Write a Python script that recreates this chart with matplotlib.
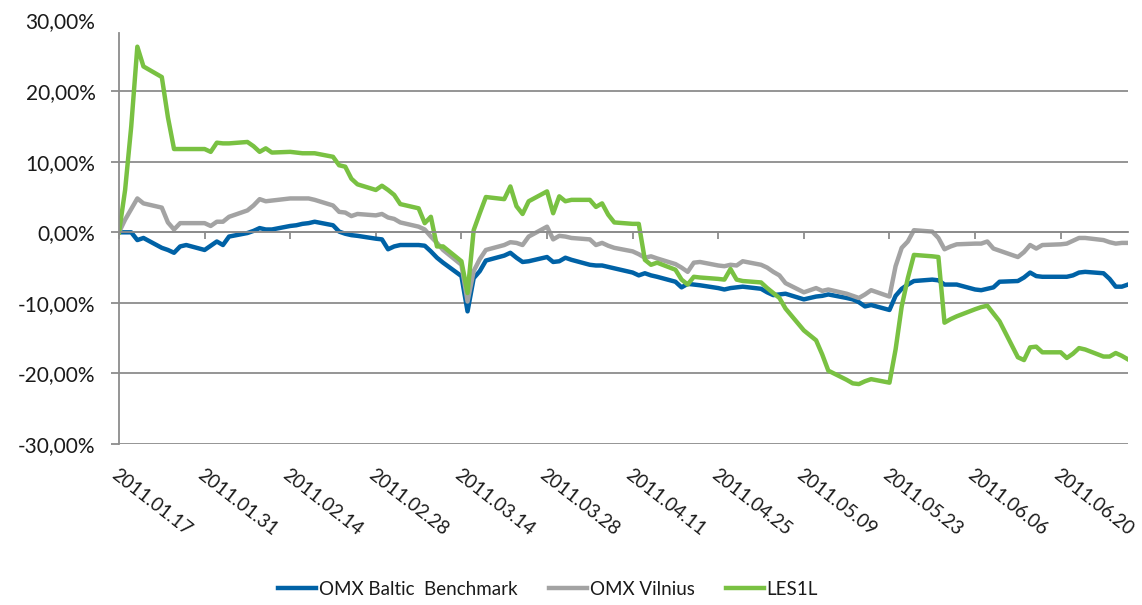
import matplotlib.pyplot as plt
import matplotlib.dates as mdates
import pandas as pd

plt.rcParams['font.family'] = ['Lato', 'DejaVu Sans']

# trading days, 2011-01-17 .. 2011-07-01
dates = pd.bdate_range('2011-01-17', '2011-07-01')

omx_baltic = [
    0.0, 0.0, 0.0, -1.1, -0.8,
    -2.2, -2.5, -2.9, -2.0, -1.8,
    -2.5, -1.9, -1.3, -1.8, -0.6,
    -0.1, 0.2, 0.6, 0.4, 0.4,
    0.9, 1.0, 1.2, 1.3, 1.5,
    1.0, 0.1, -0.2, -0.4, -0.5,
    -0.9, -1.0, -2.4, -2.0, -1.8,
    -1.8, -1.9, -2.7, -3.6, -4.3,
    -6.2, -11.2, -6.5, -5.5, -4.0,
    -3.3, -2.9, -3.6, -4.2, -4.1,
    -3.5, -4.2, -4.1, -3.6, -3.9,
    -4.6, -4.7, -4.7, -4.9, -5.1,
    -5.7, -6.1, -5.8, -6.1, -6.3,
    -7.0, -7.8, -7.3, -7.4, -7.5,
    -7.9, -8.1, -7.9, -7.8, -7.7,
    -8.0, -8.5, -8.9, -8.8, -8.7,
    -9.5, -9.3, -9.1, -9.0, -8.8,
    -9.3, -9.5, -9.9, -10.5, -10.3,
    -11.0, -9.0, -8.0, -7.4, -6.9,
    -6.7, -6.8, -7.4, -7.4, -7.4,
    -8.1, -8.2, -8.0, -7.8, -7.0,
    -6.9, -6.4, -5.7, -6.2, -6.3,
    -6.3, -6.3, -6.1, -5.7, -5.6,
    -5.8, -6.6, -7.7, -7.7, -7.4,
]

omx_vilnius = [
    0.0, 1.8, 3.3, 4.8, 4.1,
    3.5, 1.4, 0.4, 1.3, 1.3,
    1.3, 0.9, 1.5, 1.5, 2.2,
    3.1, 3.8, 4.7, 4.4, 4.5,
    4.8, 4.8, 4.8, 4.8, 4.6,
    3.8, 2.9, 2.8, 2.3, 2.6,
    2.4, 2.6, 2.1, 1.9, 1.4,
    0.8, 0.4, -0.6, -1.5, -2.5,
    -4.6, -9.8, -5.5, -3.8, -2.5,
    -1.8, -1.4, -1.5, -1.8, -0.6,
    0.8, -1.0, -0.5, -0.6, -0.8,
    -1.0, -1.8, -1.5, -1.9, -2.2,
    -2.7, -3.1, -3.6, -3.4, -3.7,
    -4.5, -5.0, -5.6, -4.3, -4.2,
    -4.7, -4.8, -4.6, -4.7, -4.1,
    -4.6, -5.0, -5.6, -6.1, -7.2,
    -8.5, -8.2, -7.9, -8.3, -8.1,
    -8.7, -9.0, -9.3, -8.8, -8.2,
    -9.1, -4.8, -2.2, -1.3, 0.3,
    0.1, -0.8, -2.4, -2.0, -1.7,
    -1.6, -1.6, -1.3, -2.3, -2.6,
    -3.5, -2.8, -1.8, -2.3, -1.8,
    -1.7, -1.6, -1.2, -0.8, -0.8,
    -1.1, -1.4, -1.6, -1.5, -1.5,
]

les1l = [
    0.0, 6.0, 15.0, 26.3, 23.5,
    22.0, 16.3, 11.8, 11.8, 11.8,
    11.8, 11.4, 12.7, 12.6, 12.6,
    12.8, 12.2, 11.4, 11.9, 11.3,
    11.4, 11.3, 11.2, 11.2, 11.2,
    10.7, 9.5, 9.3, 7.6, 6.8,
    6.0, 6.6, 6.0, 5.3, 4.0,
    3.4, 1.3, 2.2, -2.0, -2.0,
    -4.1, -8.6, 0.3, 2.7, 5.0,
    4.7, 6.5, 3.7, 2.6, 4.4,
    5.8, 2.7, 5.1, 4.4, 4.6,
    4.6, 3.6, 4.1, 2.5, 1.4,
    1.2, 1.2, -3.9, -4.6, -4.3,
    -5.3, -6.7, -7.4, -6.3, -6.4,
    -6.6, -6.7, -5.2, -6.7, -6.9,
    -7.1, -7.9, -8.6, -9.3, -10.8,
    -13.9, -14.6, -15.3, -17.3, -19.6,
    -20.9, -21.4, -21.5, -21.1, -20.8,
    -21.3, -16.6, -10.5, -6.5, -3.2,
    -3.4, -3.5, -12.8, -12.3, -11.9,
    -10.9, -10.6, -10.4, -11.5, -12.6,
    -17.7, -18.1, -16.3, -16.2, -17.0,
    -17.0, -17.8, -17.2, -16.4, -16.6,
    -17.6, -17.6, -17.1, -17.5, -18.0,
]

tick_dates = pd.date_range('2011-01-17', '2011-06-20', freq='14D')

grid_col = '#8c8c8c'
text_col = '#1a1a1a'

fig, ax = plt.subplots(figsize=(11.42, 6.05), dpi=100)
fig.subplots_adjust(left=0.1042, right=0.9877, top=0.966, bottom=0.266)

ax.plot(dates, omx_baltic, color='#0062a6', lw=3.2, label='OMX Baltic  Benchmark', solid_joinstyle='round')
ax.plot(dates, omx_vilnius, color='#a3a3a3', lw=3.2, label='OMX Vilnius', solid_joinstyle='round')
ax.plot(dates, les1l, color='#79c142', lw=3.2, label='LES1L', solid_joinstyle='round')

ax.set_xlim(dates[0], dates[-1])
ax.set_ylim(-30, 30)
ax.set_yticks(range(-30, 31, 10))
ax.yaxis.set_major_formatter(plt.FuncFormatter(lambda v, p: f'{v:.2f}%'.replace('.', ',')))

ax.grid(axis='y', color=grid_col, lw=1.3)
ax.set_axisbelow(True)
ygrid = ax.get_ygridlines()
ygrid[-1].set_visible(False)
ax.yaxis.get_major_ticks()[-1].tick1line.set_visible(False)

for s in ['top', 'right']:
    ax.spines[s].set_visible(False)
ax.spines['left'].set_color(grid_col)
ax.spines['left'].set_linewidth(1.3)
ax.spines['left'].set_bounds(-30, 28.3)
ax.spines['bottom'].set_position(('data', 0))
ax.spines['bottom'].set_color(grid_col)
ax.spines['bottom'].set_linewidth(1.3)

ax.set_xticks(tick_dates)
ax.xaxis.set_major_formatter(mdates.DateFormatter('%Y.%m.%d'))
ax.tick_params(axis='x', direction='out', length=5, width=1.3, color=grid_col,
               pad=163, labelsize=13.5, labelcolor=text_col)
ax.tick_params(axis='y', direction='out', length=6, width=1.3, color=grid_col,
               pad=11, labelsize=15, labelcolor=text_col)
for lbl in ax.get_xticklabels():
    lbl.set_rotation(-38)
    lbl.set_ha('left')
    lbl.set_va('top')
    lbl.set_rotation_mode('anchor')

ax.legend(loc='lower center', bbox_to_anchor=(0.48, -0.016), bbox_transform=fig.transFigure,
          ncol=3, frameon=False, fontsize=13.5, handlelength=2.0, handletextpad=0.15,
          columnspacing=1.7, labelcolor=text_col)

plt.savefig('out.png', dpi=100)
